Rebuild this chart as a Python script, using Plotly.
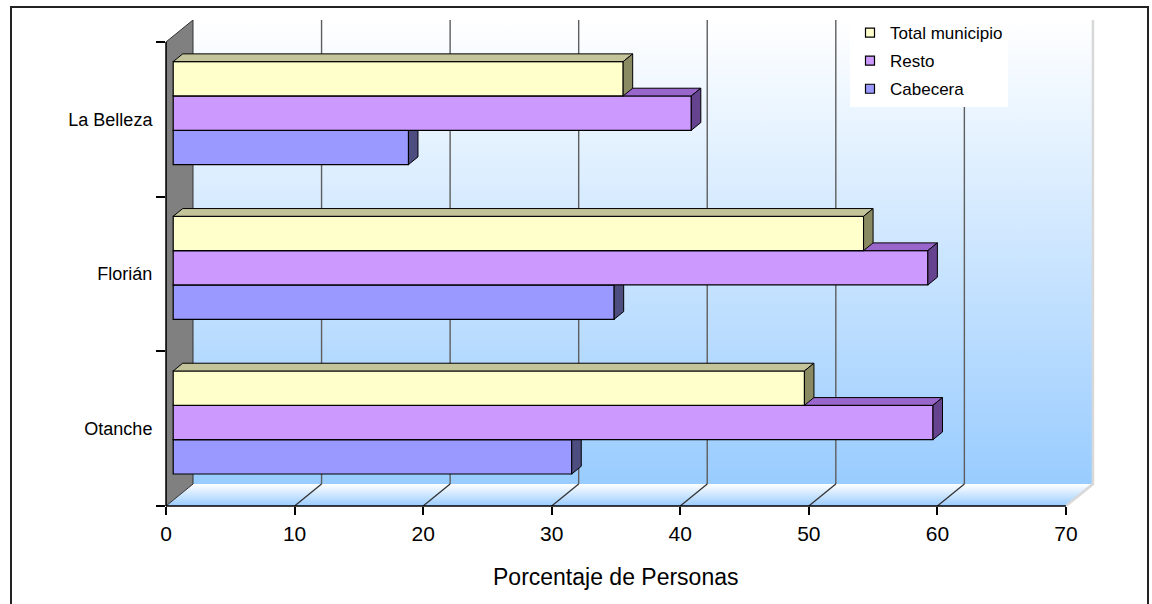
import plotly.graph_objects as go

# ---- data -------------------------------------------------------------
categories = ["La Belleza", "Florián", "Otanche"]          # top to bottom
total_municipio = [35.0, 53.7, 49.1]
resto = [40.3, 58.7, 59.1]
cabecera = [18.3, 34.3, 31.0]
x_ticks = [0, 10, 20, 30, 40, 50, 60, 70]
x_title = "Porcentaje de Personas"

# ---- geometry of the pseudo-3D box (axis units) -------------------------
X_MAX = 70
X_RANGE = [0, 72.65]
Y_RANGE = [-0.5, 2.642]
DX, DY = 2.1, 0.142          # full depth of the box
SX, SY = 0.56, 0.04          # depth at which the bar fronts sit
BDX, BDY = 0.74, 0.05        # depth of one bar
BAR_W = 0.222

FONT = "Liberation Sans, Arial, sans-serif"
L, R, T, B = 166, 52, 20, 98
W, H = 1152, 604
PW, PH = W - L - R, H - T - B


def px_to_paper(px, py):
    return (px - L) / PW, (H - B - py) / PH


# positions of categories along y (bottom = 0)
n = len(categories)
pos = [n - 1 - i for i in range(n)]

series = [
    # name, values, front, top face, side face, offset
    ("Cabecera", cabecera, "#9999FF", "#7373C8", "#4D4D80", -1.5 * BAR_W),
    ("Resto", resto, "#CC99FF", "#9966CC", "#66438F", -0.5 * BAR_W),
    ("Total municipio", total_municipio, "#FFFFCC", "#C4C49A", "#8A8A62", 0.5 * BAR_W),
]

fig = go.Figure()

y0w, y1w = Y_RANGE[0], Y_RANGE[0] + 3.0

# back wall with a white-to-blue gradient
fig.add_trace(go.Scatter(
    x=[DX, X_MAX + DX, X_MAX + DX, DX, DX],
    y=[y0w + DY, y0w + DY, y1w + DY, y1w + DY, y0w + DY],
    mode="lines", fill="toself", line=dict(width=0),
    fillgradient=dict(type="vertical",
                      colorscale=[[0, "#99CCFF"], [1, "#FFFFFF"]],
                      start=y0w + DY, stop=y1w + DY),
    hoverinfo="skip", showlegend=False))

# floor
fig.add_trace(go.Scatter(
    x=[0, X_MAX, X_MAX + DX, DX, 0],
    y=[y0w, y0w, y0w + DY, y0w + DY, y0w],
    mode="lines", fill="toself", line=dict(width=0),
    fillgradient=dict(type="vertical",
                      colorscale=[[0, "#99CCFF"], [1, "#FFFFFF"]],
                      start=y0w, stop=y0w + DY),
    hoverinfo="skip", showlegend=False))

# right edges of wall and floor
fig.add_trace(go.Scatter(
    x=[X_MAX, X_MAX + DX, X_MAX + DX],
    y=[y0w, y0w + DY, y1w + DY],
    mode="lines", line=dict(color="#D8D8D8", width=2.5),
    hoverinfo="skip", showlegend=False))

# gridlines: vertical on the back wall, slanted across the floor
gx, gy, fx, fy = [], [], [], []
for v in x_ticks[1:-1]:
    gx += [v + DX, v + DX, None]
    gy += [y0w + DY, y1w + DY, None]
    fx += [v, v + DX, None]
    fy += [y0w, y0w + DY, None]
fig.add_trace(go.Scatter(x=gx, y=gy, mode="lines",
                         line=dict(color="#5E5E5E", width=1.4),
                         hoverinfo="skip", showlegend=False))
fig.add_trace(go.Scatter(x=fx, y=fy, mode="lines",
                         line=dict(color="#333333", width=1.3),
                         hoverinfo="skip", showlegend=False))

# left wall
fig.add_trace(go.Scatter(
    x=[0, DX, DX, 0, 0],
    y=[y0w, y0w + DY, y1w + DY, y1w, y0w],
    mode="lines", fill="toself", fillcolor="#808080",
    line=dict(color="#333333", width=1),
    hoverinfo="skip", showlegend=False))

# bars: one overlaid subplot per series so that later series are painted
# over the top faces of earlier ones
for k, (name, vals, front, top, side, off) in enumerate(series, start=2):
    xa, ya = f"x{k}", f"y{k}"
    fig.add_trace(go.Bar(
        x=vals, y=pos, orientation="h", width=BAR_W, offset=off,
        marker=dict(color=front, line=dict(color="#000000", width=1.2)),
        xaxis=xa, yaxis=ya, showlegend=False, name=name))
    tx, ty, sxs, sys_ = [], [], [], []
    for v, p in zip(vals, pos):
        b0, b1 = p + off, p + off + BAR_W
        tx += [0, BDX, v + BDX, v, 0, None]
        ty += [b1, b1 + BDY, b1 + BDY, b1, b1, None]
        sxs += [v, v + BDX, v + BDX, v, v, None]
        sys_ += [b0, b0 + BDY, b1 + BDY, b1, b0, None]
    fig.add_trace(go.Scatter(x=tx, y=ty, mode="lines", fill="toself",
                             fillcolor=top, line=dict(color="#000000", width=1),
                             xaxis=xa, yaxis=ya, hoverinfo="skip",
                             showlegend=False))
    fig.add_trace(go.Scatter(x=sxs, y=sys_, mode="lines", fill="toself",
                             fillcolor=side, line=dict(color="#000000", width=1),
                             xaxis=xa, yaxis=ya, hoverinfo="skip",
                             showlegend=False))
    fig.update_layout({
        f"xaxis{k}": dict(overlaying="x", range=[X_RANGE[0] - SX, X_RANGE[1] - SX],
                          visible=False, anchor=ya),
        f"yaxis{k}": dict(overlaying="y", range=[Y_RANGE[0] - SY, Y_RANGE[1] - SY],
                          visible=False, anchor=xa),
    })

# legend entries
for name, vals, front, top, side, off in reversed(series):
    fig.add_trace(go.Scatter(
        x=[None], y=[None], mode="markers", name=name, legendgroup=name,
        marker=dict(symbol="square", size=9, color=front,
                    line=dict(color="#000000", width=1.2))))

# axis lines
fig.add_shape(type="line", xref="x", yref="paper", x0=0, x1=X_MAX, y0=0, y1=0,
              line=dict(color="#000000", width=1.5), layer="above")
fig.add_shape(type="line", xref="paper", yref="y", x0=0, x1=0, y0=y0w, y1=y1w,
              line=dict(color="#000000", width=1.5), layer="above")

# outer frame
bx0, by0 = px_to_paper(11, 620)
bx1, by1 = px_to_paper(1148, 7)
fig.add_shape(type="rect", xref="paper", yref="paper",
              x0=bx0, x1=bx1, y0=by0, y1=by1,
              line=dict(color="#222222", width=2), layer="above")

fig.add_annotation(x=X_MAX / 2, xref="x", y=px_to_paper(0, 577)[1], yref="paper",
                   text=x_title, showarrow=False, yanchor="middle",
                   font=dict(family=FONT, size=23, color="#000000"))

fig.update_layout(
    width=W, height=H,
    margin=dict(l=L, r=R, t=T, b=B, autoexpand=False),
    paper_bgcolor="#FFFFFF", plot_bgcolor="rgba(0,0,0,0)",
    barmode="overlay",
    font=dict(family=FONT, color="#000000"),
    xaxis=dict(range=X_RANGE, tickmode="array", tickvals=x_ticks,
               ticks="outside", ticklen=8, tickwidth=1.5, tickcolor="#000000",
               tickfont=dict(size=21), showgrid=False, zeroline=False,
               showline=False, ticklabelstandoff=1, automargin=False),
    yaxis=dict(range=Y_RANGE, tickmode="array", tickvals=pos, ticktext=categories,
               ticks="outside", ticklen=9, tickcolor="rgba(0,0,0,0)",
               tickfont=dict(size=18), showgrid=False, zeroline=False,
               showline=False, automargin=False,
               minor=dict(tickmode="array", tickvals=[-0.5, 0.5, 1.5, 2.5],
                          ticks="outside", ticklen=9, tickwidth=1.5,
                          tickcolor="#000000", showgrid=False)),
    legend=dict(xref="container", yref="container",
                x=850 / W, y=1 - 15 / H, xanchor="left", yanchor="top",
                bgcolor="#FFFFFF", borderwidth=0, tracegroupgap=3,
                font=dict(family=FONT, size=17, color="#000000")),
    showlegend=True,
)

fig.write_html("out.html")
